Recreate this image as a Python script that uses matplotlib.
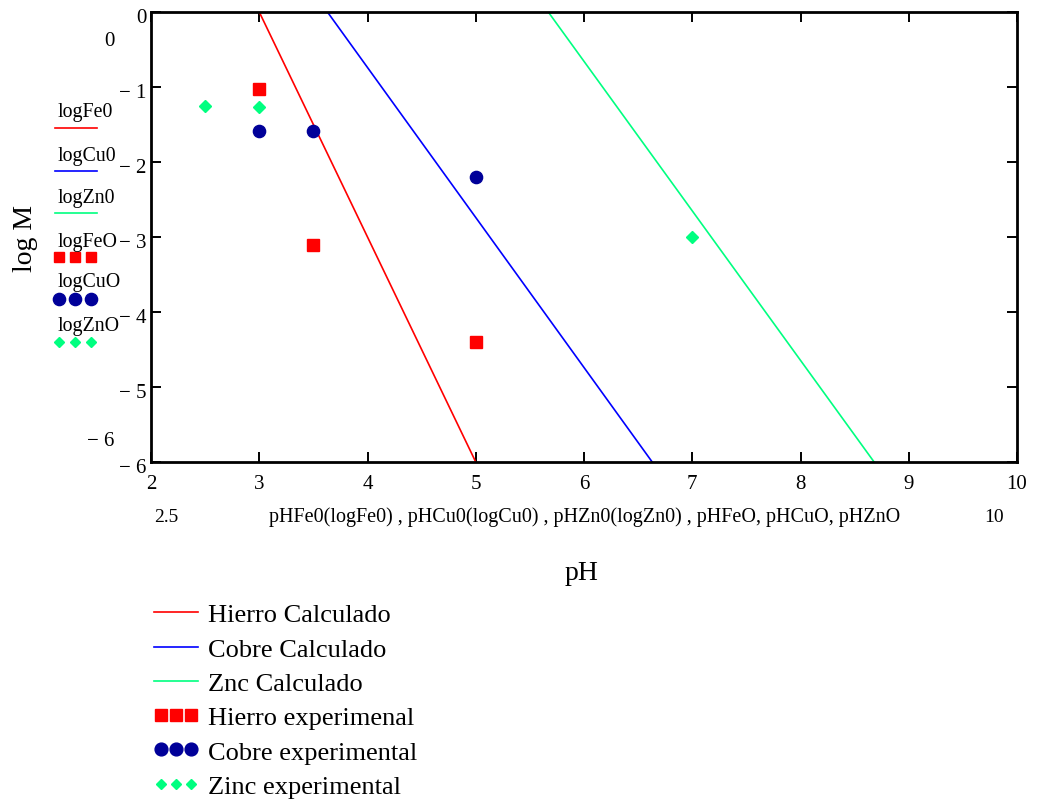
import numpy as np
import matplotlib as mpl
mpl.use('Agg')
from matplotlib import pyplot as plt
from matplotlib.lines import Line2D
from matplotlib.legend_handler import HandlerLine2D
from matplotlib.transforms import ScaledTranslation

plt.rcParams['font.family'] = ['Liberation Serif', 'DejaVu Serif']

# calculated lines: log M range and the pH at each end
logM_calc = [0, -6]
pH_fe_calc = [3.0, 5.0]
pH_cu_calc = [3.63, 6.63]
pH_zn_calc = [5.67, 8.68]

# experimental points
pH_fe_exp = [3.0, 3.5, 5.0]
log_fe_exp = [-1.03, -3.1, -4.4]
pH_cu_exp = [3.0, 3.5, 5.0]
log_cu_exp = [-1.58, -1.58, -2.2]
pH_zn_exp = [2.5, 3.0, 7.0]
log_zn_exp = [-1.25, -1.27, -3.0]

x_ticks = [2, 3, 4, 5, 6, 7, 8, 9, 10]
y_ticks = [0, -1, -2, -3, -4, -5, -6]
y_tick_labels = ['0', '\u2212 1', '\u2212 2', '\u2212 3', '\u2212 4', '\u2212 5', '\u2212 6']

red = '#ff0000'
blue = '#0000ff'
green = '#00ff80'
navy = '#000099'

fig = plt.figure(figsize=(10.41, 8.03), dpi=100)
ax = fig.add_axes([151/1041, 1 - 463/803, (1017-151)/1041, (463-13)/803])

ax.plot(pH_fe_calc, logM_calc, color=red, lw=1.2)
ax.plot(pH_cu_calc, logM_calc, color=blue, lw=1.2)
ax.plot(pH_zn_calc, logM_calc, color=green, lw=1.2)
ax.plot(pH_fe_exp, log_fe_exp, 's', color=red, ms=8.6, ls='none')
ax.plot(pH_cu_exp, log_cu_exp, 'o', color=navy, ms=8.8, ls='none')
ax.plot(pH_zn_exp, log_zn_exp, 'D', color=green, ms=6, ls='none')

ax.set_xlim(2, 10)
ax.set_ylim(-6, 0)
ax.set_xticks(x_ticks)
ax.set_xticklabels([str(t) for t in x_ticks])
ax.set_yticks(y_ticks)
ax.set_yticklabels(y_tick_labels)
ax.tick_params(direction='in', length=7.5, width=1.4, labelsize=15,
               top=True, right=True)
ax.tick_params(axis='x', pad=9)
ax.tick_params(axis='y', pad=3)
# Mathcad puts the y labels a touch below their ticks
shift = ScaledTranslation(0, -3/100, fig.dpi_scale_trans)
for lab in ax.get_yticklabels():
    lab.set_transform(lab.get_transform() + shift)
for s in ax.spines.values():
    s.set_linewidth(2)

# range labels (Mathcad style)
fig.text(109/1041, 1 - 41/803, '0', fontsize=15, ha='center', va='center')
fig.text(114/1041, 1 - 442/803, '\u2212 6', fontsize=15, ha='right', va='center')
fig.text(166/1041, 1 - 517/803, '2.5', fontsize=14, ha='center', va='center')
fig.text(994/1041, 1 - 517/803, '10', fontsize=14, ha='center', va='center')
fig.text(585/1041, 1 - 517/803,
         'pHFe0(logFe0) , pHCu0(logCu0) , pHZn0(logZn0) , pHFeO, pHCuO, pHZnO',
         fontsize=14.5, ha='center', va='center')

fig.text(582/1041, 1 - 574/803, 'pH', fontsize=20, ha='center', va='center')
fig.text(25/1041, 1 - 238/803, 'log M', fontsize=20, ha='center', va='center',
         rotation=90)

# left inline legend: label over sample
left_names = ['logFe0', 'logCu0', 'logZn0', 'logFeO', 'logCuO', 'logZnO']
left_label_y = [112, 157, 199, 243, 283, 326]
left_sample_y = [129, 172, 214, 258, 300, 343]
for i, name in enumerate(left_names):
    fig.text(58/1041, 1 - left_label_y[i]/803, name, fontsize=14.3, ha='left', va='center')
sx = np.array([55, 97]) / 1041
mx = np.array([59, 75, 91]) / 1041
for y, c in zip(left_sample_y[:3], [red, blue, green]):
    fig.add_artist(Line2D(sx, [1 - y/803]*2, color=c, lw=1.2, transform=fig.transFigure))
for y, c, m, ms in zip(left_sample_y[3:], [red, navy, green], ['s', 'o', 'D'], [7.3, 8.8, 5]):
    fig.add_artist(Line2D(mx, [1 - y/803]*3, color=c, marker=m, ms=ms, ls='none',
                          transform=fig.transFigure))

# bottom legend
line_h = [Line2D([], [], color=c, lw=1.2) for c in [red, blue, green]]
mark_h = [
    Line2D([], [], color=red, marker='s', ms=8.6, ls='none'),
    Line2D([], [], color=navy, marker='o', ms=9.2, ls='none'),
    Line2D([], [], color=green, marker='D', ms=5, ls='none'),
]
hmap = {h: HandlerLine2D(numpoints=2, marker_pad=0) for h in line_h}
hmap.update({h: HandlerLine2D(numpoints=3, marker_pad=0.25) for h in mark_h})
labels = ['Hierro Calculado', 'Cobre Calculado', 'Znc Calculado',
          'Hierro experimenal', 'Cobre experimental', 'Zinc experimental']
fig.legend(line_h + mark_h, labels, handler_map=hmap, loc='upper left',
           bbox_to_anchor=(154/1041, 1 - 604/803),
           frameon=False, fontsize=19, handlelength=1.67,
           handletextpad=0.38, labelspacing=0.41, borderpad=0, borderaxespad=0)

fig.savefig('out.png', dpi=100)
